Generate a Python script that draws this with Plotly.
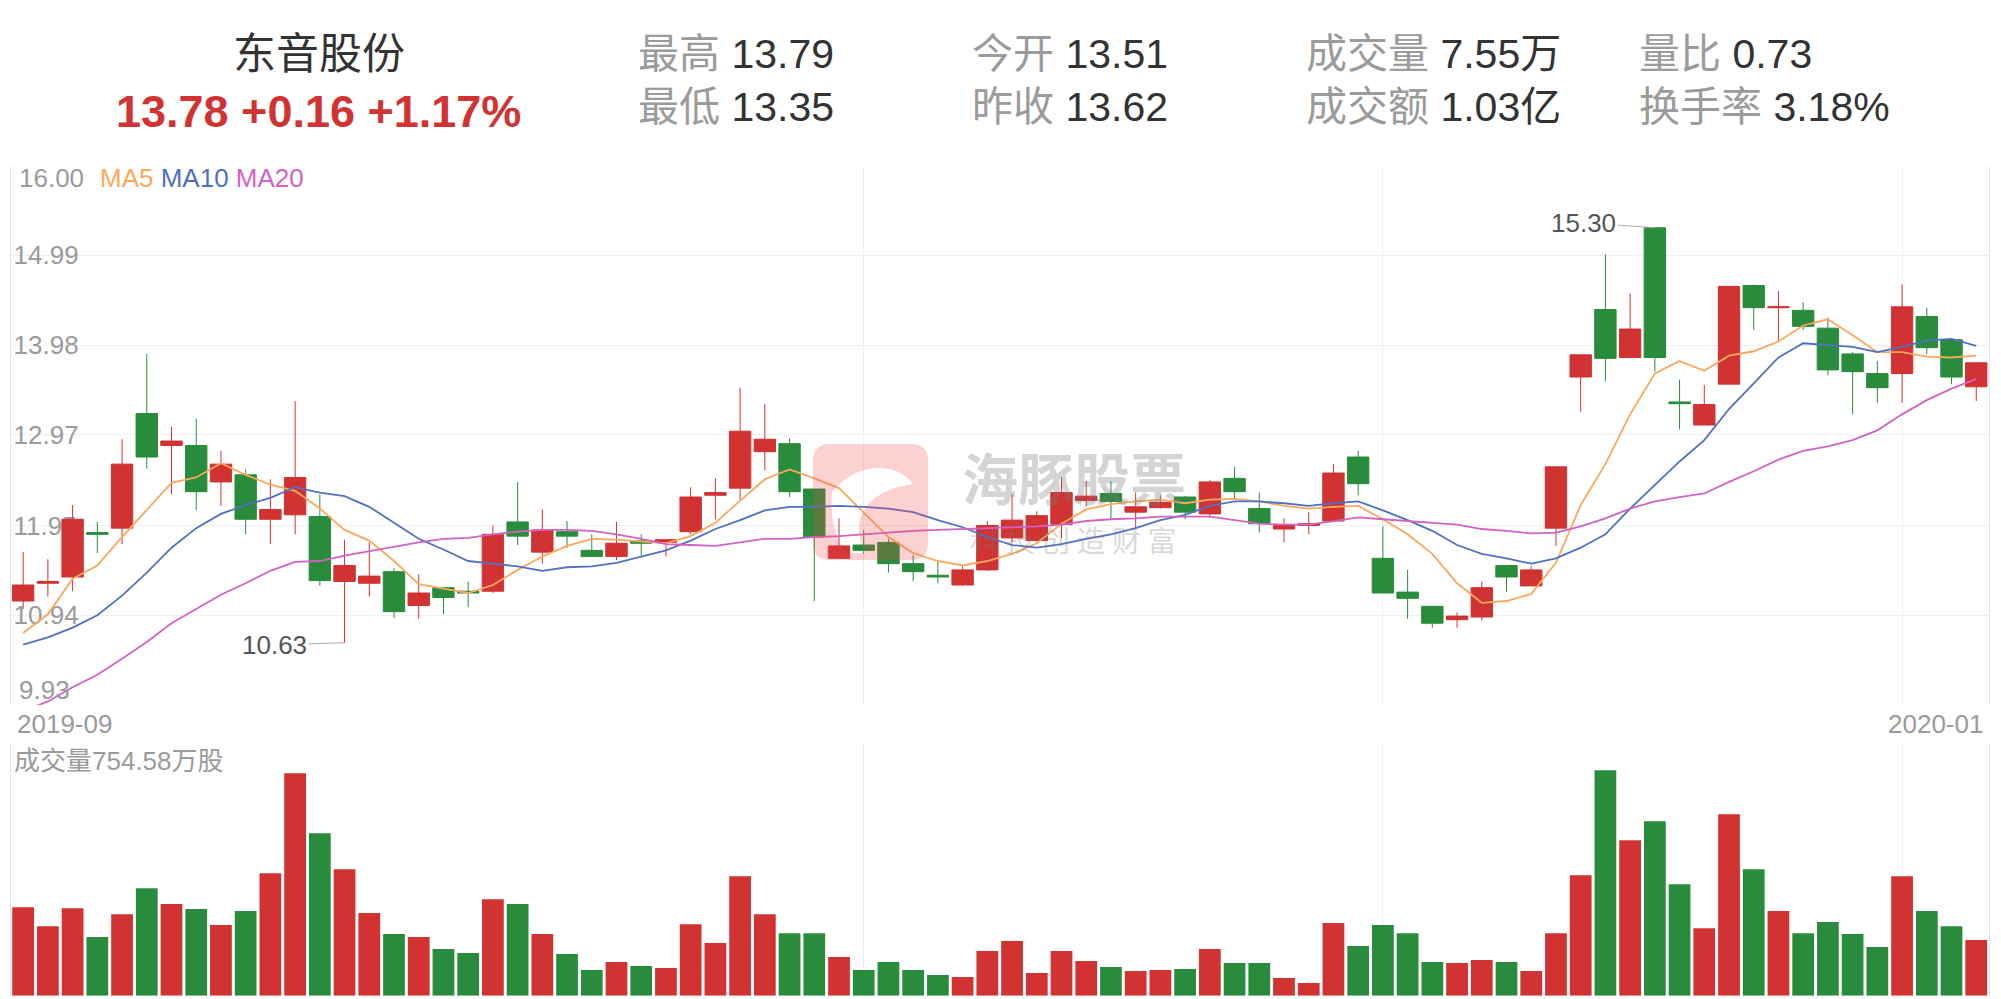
import plotly.graph_objects as go

W, H = 2001, 999

# ---------------- data ----------------
opens = [11.10, 11.30, 11.37, 11.87, 11.92, 13.21, 12.85, 12.85, 12.44, 12.52,
         12.02, 12.07, 12.05, 11.32, 11.30, 11.43, 11.05, 11.25, 11.21, 11.21,
         11.99, 11.65, 11.88, 11.67, 11.60, 11.78, 11.76, 11.88, 12.29, 12.37,
         12.78, 12.87, 12.36, 11.58, 11.73, 11.76, 11.52, 11.39, 11.28, 11.45,
         11.81, 11.78, 11.96, 12.23, 12.31, 12.10, 12.15, 12.27, 12.08, 12.48,
         12.14, 11.91, 11.95, 12.00, 12.72, 11.58, 11.20, 11.04, 10.89, 10.92,
         11.50, 11.27, 11.92, 13.62, 14.38, 13.84, 15.30, 13.34, 13.08, 13.54,
         14.65, 14.40, 14.37, 14.17, 13.88, 13.66, 13.66, 14.30, 14.04, 13.51]
highs = [11.65, 11.57, 12.18, 11.99, 12.92, 13.88, 13.06, 13.15, 12.79, 12.58,
         12.47, 13.35, 12.30, 11.79, 11.76, 11.47, 11.40, 11.25, 11.32, 11.95,
         12.44, 12.13, 12.00, 11.85, 11.99, 11.85, 11.79, 12.38, 12.48, 13.50,
         13.32, 12.93, 12.36, 12.03, 11.90, 11.80, 11.62, 11.55, 11.49, 12.00,
         12.30, 12.11, 12.49, 12.45, 12.45, 12.32, 12.29, 12.28, 12.46, 12.61,
         12.32, 12.03, 12.10, 12.64, 12.79, 11.94, 11.45, 11.04, 10.97, 11.32,
         11.50, 11.49, 12.61, 13.87, 15.00, 14.56, 15.30, 13.59, 13.53, 14.64,
         14.66, 14.59, 14.46, 14.29, 13.90, 13.80, 14.66, 14.40, 14.04, 13.79]
lows = [11.01, 11.15, 11.21, 11.64, 11.74, 12.59, 12.30, 12.12, 12.17, 11.85,
        11.74, 11.85, 11.27, 10.63, 11.15, 10.91, 10.90, 10.95, 11.03, 11.19,
        11.73, 11.52, 11.70, 11.60, 11.56, 11.61, 11.60, 11.85, 12.02, 12.24,
        12.57, 12.27, 11.10, 11.58, 11.63, 11.42, 11.32, 11.30, 11.27, 11.44,
        11.76, 11.77, 11.81, 12.16, 12.02, 11.92, 12.14, 12.02, 12.04, 12.25,
        11.87, 11.76, 11.85, 11.99, 12.29, 11.19, 10.90, 10.80, 10.80, 10.88,
        11.20, 11.27, 11.72, 13.23, 13.57, 13.84, 13.68, 13.03, 13.08, 13.54,
        14.15, 14.03, 14.15, 13.64, 13.20, 13.33, 13.33, 13.88, 13.54, 13.35]
closes = [11.28, 11.32, 12.02, 11.85, 12.64, 12.72, 12.90, 12.33, 12.64, 12.02,
          12.13, 12.49, 11.33, 11.50, 11.38, 10.98, 11.19, 11.14, 11.19, 11.85,
          11.83, 11.90, 11.83, 11.60, 11.75, 11.75, 11.79, 12.27, 12.32, 13.01,
          12.92, 12.33, 11.82, 11.72, 11.67, 11.52, 11.43, 11.37, 11.45, 11.95,
          12.01, 12.06, 12.32, 12.28, 12.22, 12.16, 12.21, 12.10, 12.44, 12.33,
          11.97, 11.95, 11.97, 12.54, 12.42, 11.19, 11.13, 10.85, 10.93, 11.25,
          11.37, 11.45, 12.61, 13.87, 13.83, 14.16, 13.84, 13.32, 13.31, 14.64,
          14.40, 14.41, 14.19, 13.70, 13.68, 13.50, 14.41, 13.95, 13.62, 13.78]
volumes = [1202, 944, 1188, 795, 1107, 1459, 1243, 1175, 958, 1148,
           1663, 3018, 2205, 1717, 1121, 836, 795, 633, 578, 1310,
           1243, 836, 565, 348, 456, 402, 375, 971, 714, 1622,
           1107, 849, 849, 524, 348, 456, 348, 280, 253, 605,
           741, 307, 605, 470, 389, 334, 348, 361, 633, 443,
           443, 239, 172, 985, 673, 958, 849, 456, 443, 483,
           456, 334, 849, 1636, 3059, 2110, 2368, 1514, 917, 2463,
           1717, 1148, 849, 999, 836, 660, 1622, 1148, 944, 754.58]  # 万股
ma5 = [10.74, 10.95, 11.35, 11.50, 11.82, 12.12, 12.43, 12.49, 12.65, 12.52,
       12.41, 12.34, 12.14, 11.90, 11.78, 11.55, 11.29, 11.24, 11.19, 11.28,
       11.45, 11.60, 11.72, 11.80, 11.79, 11.77, 11.75, 11.83, 11.98, 12.23,
       12.47, 12.58, 12.48, 12.37, 12.10, 11.82, 11.64, 11.55, 11.50, 11.55,
       11.63, 11.75, 11.97, 12.13, 12.19, 12.22, 12.24, 12.20, 12.24, 12.25,
       12.22, 12.17, 12.14, 12.16, 12.17, 12.02, 11.85, 11.63, 11.30, 11.08,
       11.10, 11.18, 11.53, 12.18, 12.64, 13.20, 13.66, 13.80, 13.69, 13.86,
       13.91, 14.02, 14.20, 14.27, 14.09, 13.90, 13.90, 13.85, 13.84, 13.86]
ma10 = [10.61, 10.69, 10.80, 10.94, 11.16, 11.42, 11.70, 11.92, 12.08, 12.18,
        12.26, 12.38, 12.32, 12.28, 12.16, 11.98, 11.80, 11.68, 11.55, 11.52,
        11.49, 11.44, 11.48, 11.49, 11.53, 11.60, 11.67, 11.78, 11.91, 12.01,
        12.12, 12.16, 12.16, 12.17, 12.16, 12.14, 12.10, 12.01, 11.93, 11.82,
        11.73, 11.70, 11.74, 11.80, 11.85, 11.92, 12.01, 12.07, 12.17, 12.22,
        12.22, 12.20, 12.17, 12.20, 12.22, 12.12, 12.01, 11.89, 11.73, 11.63,
        11.58, 11.52, 11.58, 11.70, 11.85, 12.14, 12.41, 12.67, 12.91, 13.26,
        13.55, 13.84, 14.00, 13.98, 13.96, 13.90, 13.96, 14.03, 14.05, 13.97]
ma20 = [9.86, 9.97, 10.13, 10.27, 10.45, 10.64, 10.85, 11.01, 11.17, 11.30,
        11.44, 11.54, 11.55, 11.61, 11.66, 11.71, 11.76, 11.80, 11.81, 11.85,
        11.88, 11.90, 11.90, 11.89, 11.85, 11.80, 11.74, 11.73, 11.72, 11.76,
        11.80, 11.80, 11.82, 11.83, 11.85, 11.87, 11.89, 11.90, 11.91, 11.92,
        11.93, 11.94, 11.96, 12.00, 12.02, 12.03, 12.05, 12.05, 12.05, 12.01,
        11.97, 11.96, 11.96, 12.00, 12.04, 12.02, 12.00, 11.98, 11.96, 11.91,
        11.89, 11.86, 11.87, 11.94, 12.03, 12.14, 12.22, 12.27, 12.31, 12.44,
        12.56, 12.69, 12.79, 12.84, 12.91, 13.02, 13.20, 13.36, 13.49, 13.60]
y_ticks = [9.93, 10.94, 11.95, 12.97, 13.98, 14.99, 16.00]
month_grid_idx = [34, 55, 76]
month_labels = ["2019-09", "2020-01"]
stock_name = "东音股份"
header_row1 = [("最高", "13.79"), ("今开", "13.51"), ("成交量", "7.55万"), ("量比", "0.73")]
header_row2 = [("最低", "13.35"), ("昨收", "13.62"), ("成交额", "1.03亿"), ("换手率", "3.18%")]
prev_close = 13.62
vol_max = 3420

# ---------------- styling ----------------
RED = "#d13232"
GREEN = "#288c3c"
MA_COLORS = ["#fca85c", "#5070c2", "#d263c6"]
GRID = "#eeeef5"
BORDER = "#e3e4ef"
LABEL = "#9a9a9a"
FONT = "Liberation Sans, Arial, Noto Sans CJK SC, sans-serif"

def pxx(x):
    return x / W

def pxy(y):
    return 1 - y / H

XDOM = [pxx(10.8), pxx(1988.6)]
PRICE_DOM = [pxy(705), pxy(165.5)]
VOL_DOM = [pxy(995.7), pxy(743.7)]

n = len(closes)
xs = list(range(n))

fig = go.Figure()
fig.add_trace(go.Candlestick(
    x=xs, open=opens, high=highs, low=lows, close=closes,
    increasing=dict(line=dict(color=RED, width=1), fillcolor=RED),
    decreasing=dict(line=dict(color=GREEN, width=1), fillcolor=GREEN),
    whiskerwidth=0, hoverinfo="skip", xaxis="x", yaxis="y"))
for vals, col in zip([ma5, ma10, ma20], MA_COLORS):
    fig.add_trace(go.Scatter(x=xs, y=vals, mode="lines",
                             line=dict(color=col, width=1.8),
                             hoverinfo="skip", xaxis="x", yaxis="y"))
bar_colors = [RED if c >= o else GREEN for o, c in zip(opens, closes)]
fig.add_trace(go.Bar(x=xs, y=volumes, marker=dict(color=bar_colors, line=dict(width=0)),
                     hoverinfo="skip", xaxis="x2", yaxis="y2"))

grid_ticks = y_ticks[1:]
fig.update_layout(
    width=W, height=H, margin=dict(l=0, r=0, t=0, b=0),
    paper_bgcolor="white", plot_bgcolor="white", showlegend=False,
    boxgap=0.07, boxgroupgap=0.07, bargap=0.12,
    font=dict(family=FONT), hovermode=False,
    xaxis=dict(domain=XDOM, range=[-0.5, n - 0.5], anchor="y",
               tickvals=month_grid_idx, showticklabels=False, ticks="",
               showgrid=True, gridcolor=GRID, gridwidth=1, zeroline=False,
               showline=False, rangeslider=dict(visible=False)),
    yaxis=dict(domain=PRICE_DOM, range=[y_ticks[0], y_ticks[-1]], anchor="x",
               tickvals=grid_ticks,
               ticktext=[f"{v:.2f}" for v in grid_ticks[:-1]] + [""],
               ticklabelposition="inside", ticklabelstandoff=5,
               tickfont=dict(size=26, color=LABEL, family=FONT),
               layer="below traces", ticks="",
               showgrid=True, gridcolor=GRID, gridwidth=1, zeroline=False,
               showline=True, linecolor=BORDER, linewidth=1, mirror=True),
    xaxis2=dict(domain=XDOM, range=[-0.5, n - 0.5], anchor="y2",
                tickvals=month_grid_idx, showticklabels=False, ticks="",
                showgrid=True, gridcolor=GRID, gridwidth=1, zeroline=False,
                showline=False),
    yaxis2=dict(domain=VOL_DOM, range=[0, vol_max], anchor="x2",
                tickvals=[vol_max], showticklabels=False, ticks="",
                showgrid=True, gridcolor=BORDER, gridwidth=1.5, zeroline=False,
                showline=True, linecolor=BORDER, linewidth=1, mirror=True),
)

ann = []
# edge tick labels of price axis
ann.append(dict(x=pxx(17), y=y_ticks[-1], xref="paper", yref="y", text=f"{y_ticks[-1]:.2f}",
                xanchor="left", yanchor="top", showarrow=False, yshift=4,
                font=dict(size=26, color=LABEL, family=FONT)))
ann.append(dict(x=pxx(17), y=y_ticks[0], xref="paper", yref="y", text=f"{y_ticks[0]:.2f}",
                xanchor="left", yanchor="bottom", showarrow=False, yshift=-2,
                font=dict(size=26, color=LABEL, family=FONT)))
# MA legend
ann.append(dict(x=pxx(98), y=pxy(178), xref="paper", yref="paper",
                text=(f"<span style='color:{MA_COLORS[0]}'>MA5</span> "
                      f"<span style='color:{MA_COLORS[1]}'>MA10</span> "
                      f"<span style='color:{MA_COLORS[2]}'>MA20</span>"),
                xanchor="left", yanchor="middle", showarrow=False,
                font=dict(size=26, family=FONT)))
# month labels
ann.append(dict(x=pxx(15), y=pxy(724), xref="paper", yref="paper", text=month_labels[0],
                xanchor="left", yanchor="middle", showarrow=False,
                font=dict(size=26, color=LABEL, family=FONT)))
ann.append(dict(x=pxx(1985), y=pxy(724), xref="paper", yref="paper", text=month_labels[1],
                xanchor="right", yanchor="middle", showarrow=False,
                font=dict(size=26, color=LABEL, family=FONT)))
# volume label
ann.append(dict(x=pxx(12), y=pxy(761), xref="paper", yref="paper",
                text=f"成交量{volumes[-1]:.2f}万股",
                xanchor="left", yanchor="middle", showarrow=False,
                font=dict(size=26, color=LABEL, family=FONT)))
# max / min markers
imax = max(range(n), key=lambda i: highs[i])
imin = min(range(n), key=lambda i: lows[i])
ann.append(dict(x=imax, y=highs[imax], xref="x", yref="y", text=f"{highs[imax]:.2f}",
                showarrow=True, arrowhead=0, arrowwidth=1, arrowcolor="#aaaaaa",
                ax=-71, ay=-5, standoff=0, font=dict(size=26, color="#555555", family=FONT)))
ann.append(dict(x=imin, y=lows[imin], xref="x", yref="y", text=f"{lows[imin]:.2f}",
                showarrow=True, arrowhead=0, arrowwidth=1, arrowcolor="#aaaaaa",
                ax=-70, ay=2, standoff=0, font=dict(size=26, color="#555555", family=FONT)))

# header
last = closes[-1]
chg = last - prev_close
pct = chg / prev_close * 100
ann.append(dict(x=pxx(319), y=pxy(54), xref="paper", yref="paper", text=stock_name,
                xanchor="center", yanchor="middle", showarrow=False,
                font=dict(size=43, color="#333333", family=FONT)))
ann.append(dict(x=pxx(318), y=pxy(111), xref="paper", yref="paper",
                text=f"<b>{last:.2f} {chg:+.2f} {pct:+.2f}%</b>",
                xanchor="center", yanchor="middle", showarrow=False,
                font=dict(size=45, color=RED, family=FONT)))
col_x = [636, 970, 1304, 1637]
for row, ypos in [(header_row1, 54), (header_row2, 107)]:
    for (lab, val), cx in zip(row, col_x):
        ann.append(dict(x=pxx(cx), y=pxy(ypos), xref="paper", yref="paper",
                        text=f"<span style='color:#9b9b9b'>{lab}</span> {val}",
                        xanchor="left", yanchor="middle", showarrow=False,
                        font=dict(size=41, color="#333333", family=FONT)))

# watermark
ann.append(dict(x=pxx(1074), y=pxy(476), xref="paper", yref="paper", text="<b>海豚股票</b>",
                xanchor="center", yanchor="middle", showarrow=False,
                font=dict(size=56, color="rgba(120,120,120,0.32)", family="Noto Sans CJK SC")))
ann.append(dict(x=pxx(1073), y=pxy(539), xref="paper", yref="paper", text="科 技 创 造 财 富",
                xanchor="center", yanchor="middle", showarrow=False,
                font=dict(size=29, color="rgba(120,120,120,0.30)", family="Noto Sans CJK SC")))
fig.update_layout(annotations=ann)

def P(x, y):
    return f"{pxx(x):.5f},{pxy(y):.5f}"

x0, x1, y0, y1, r = 813, 928, 444, 560, 17
logo = (f"M{P(x0 + r, y0)} L{P(x1 - r, y0)} Q{P(x1, y0)} {P(x1, y0 + r)} "
        f"L{P(x1, y1 - r)} Q{P(x1, y1)} {P(x1 - r, y1)} L{P(x0 + r, y1)} "
        f"Q{P(x0, y1)} {P(x0, y1 - r)} L{P(x0, y0 + r)} Q{P(x0, y0)} {P(x0 + r, y0)} Z "
        f"M{P(832, 492)} Q{P(850, 470)} {P(876, 468)} Q{P(900, 467)} {P(913, 484)} "
        f"Q{P(896, 486)} {P(881, 494)} Q{P(858, 508)} {P(859, 530)} Q{P(860, 545)} {P(866, 553)} "
        f"L{P(846, 553)} Q{P(829, 530)} {P(832, 492)} Z")
fig.update_layout(shapes=[dict(type="path", path=logo, xref="paper", yref="paper",
                               fillcolor="rgba(240,70,70,0.25)", line=dict(width=0),
                               fillrule="evenodd", layer="above")])

fig.write_html("out.html", config={"displayModeBar": False},
               post_script="document.body.style.margin='0';document.body.style.overflow='hidden';")
